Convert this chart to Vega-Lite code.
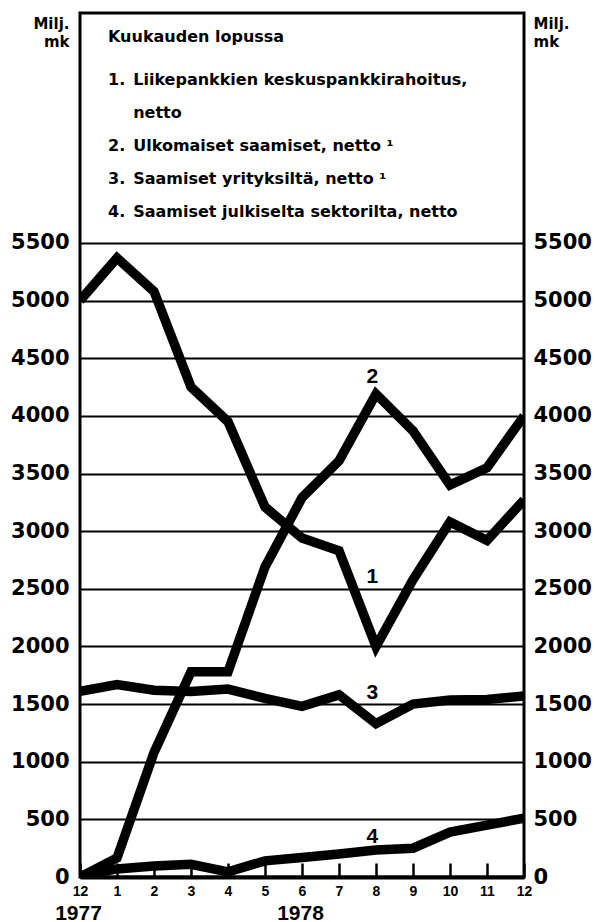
{
  "$schema": "https://vega.github.io/schema/vega-lite/v6.json",
  "width": 444,
  "height": 864,
  "autosize": "none",
  "padding": {"left": 80, "top": 13, "right": 71, "bottom": 45},
  "background": "white",
  "config": {
    "view": {"stroke": "black", "strokeWidth": 3},
    "font": "DejaVu Sans"
  },
  "title": {
    "text": "Kuukauden lopussa",
    "subtitle": [
      "1.\u2002Liikepankkien keskuspankkirahoitus,",
      "\u200b\u2007\u2008\u2002netto",
      "2.\u2002Ulkomaiset saamiset, netto \u00b9",
      "3.\u2002Saamiset yrityksiltä, netto \u00b9",
      "4.\u2002Saamiset julkiselta sektorilta, netto"
    ],
    "orient": "top",
    "anchor": "start",
    "frame": "group",
    "offset": -207,
    "dx": 28,
    "font": "DejaVu Sans",
    "fontSize": 16,
    "fontWeight": "bold",
    "color": "black",
    "subtitleFont": "DejaVu Sans",
    "subtitleFontSize": 16,
    "subtitleFontWeight": "bold",
    "subtitleColor": "black",
    "subtitleLineHeight": 33,
    "subtitlePadding": 27
  },
  "layer": [
    {
      "data": {
        "values": [
          {"m": 0, "s": "1", "v": 5000}, {"m": 1, "s": "1", "v": 5370}, {"m": 2, "s": "1", "v": 5080},
          {"m": 3, "s": "1", "v": 4250}, {"m": 4, "s": "1", "v": 3950}, {"m": 5, "s": "1", "v": 3210},
          {"m": 6, "s": "1", "v": 2940}, {"m": 7, "s": "1", "v": 2830}, {"m": 8, "s": "1", "v": 2000},
          {"m": 9, "s": "1", "v": 2580}, {"m": 10, "s": "1", "v": 3080}, {"m": 11, "s": "1", "v": 2920},
          {"m": 12, "s": "1", "v": 3270},
          {"m": 0, "s": "2", "v": 0}, {"m": 1, "s": "2", "v": 165}, {"m": 2, "s": "2", "v": 1080},
          {"m": 3, "s": "2", "v": 1780}, {"m": 4, "s": "2", "v": 1780}, {"m": 5, "s": "2", "v": 2690},
          {"m": 6, "s": "2", "v": 3290}, {"m": 7, "s": "2", "v": 3610}, {"m": 8, "s": "2", "v": 4190},
          {"m": 9, "s": "2", "v": 3870}, {"m": 10, "s": "2", "v": 3400}, {"m": 11, "s": "2", "v": 3550},
          {"m": 12, "s": "2", "v": 4000},
          {"m": 0, "s": "3", "v": 1610}, {"m": 1, "s": "3", "v": 1670}, {"m": 2, "s": "3", "v": 1620},
          {"m": 3, "s": "3", "v": 1610}, {"m": 4, "s": "3", "v": 1630}, {"m": 5, "s": "3", "v": 1550},
          {"m": 6, "s": "3", "v": 1480}, {"m": 7, "s": "3", "v": 1580}, {"m": 8, "s": "3", "v": 1330},
          {"m": 9, "s": "3", "v": 1500}, {"m": 10, "s": "3", "v": 1535}, {"m": 11, "s": "3", "v": 1540},
          {"m": 12, "s": "3", "v": 1570},
          {"m": 0, "s": "4", "v": 10}, {"m": 1, "s": "4", "v": 70}, {"m": 2, "s": "4", "v": 95},
          {"m": 3, "s": "4", "v": 110}, {"m": 4, "s": "4", "v": 45}, {"m": 5, "s": "4", "v": 140},
          {"m": 6, "s": "4", "v": 170}, {"m": 7, "s": "4", "v": 200}, {"m": 8, "s": "4", "v": 235},
          {"m": 9, "s": "4", "v": 250}, {"m": 10, "s": "4", "v": 390}, {"m": 11, "s": "4", "v": 450},
          {"m": 12, "s": "4", "v": 510}
        ]
      },
      "mark": {"type": "line", "color": "black", "strokeWidth": 9.5, "strokeJoin": "miter", "strokeMiterLimit": 4, "clip": true},
      "encoding": {
        "x": {
          "field": "m", "type": "quantitative",
          "scale": {"domain": [0, 12], "nice": false, "zero": false},
          "axis": {
            "orient": "bottom",
            "title": null,
            "values": [0, 1, 2, 3, 4, 5, 6, 7, 8, 9, 10, 11, 12],
            "labelExpr": "datum.value == 0 ? '12' : datum.value",
            "labelFlush": false,
            "labelOverlap": false,
            "labelFont": "Liberation Sans",
            "labelFontSize": 14,
            "labelFontWeight": "bold",
            "labelColor": "black",
            "labelPadding": 21,
            "ticks": true,
            "tickSize": -14,
            "tickWidth": 2.5,
            "tickColor": "black",
            "domain": true,
            "domainWidth": 4,
            "domainColor": "black",
            "grid": false
          }
        },
        "y": {
          "field": "v", "type": "quantitative",
          "scale": {"domain": [0, 7495], "nice": false},
          "axis": {
            "orient": "left",
            "format": "d",
            "values": [0, 500, 1000, 1500, 2000, 2500, 3000, 3500, 4000, 4500, 5000, 5500],
            "labelFont": "DejaVu Sans",
            "labelFontSize": 21,
            "labelFontWeight": "bold",
            "labelColor": "black",
            "labelPadding": 11,
            "ticks": false,
            "domain": false,
            "grid": true,
            "gridColor": "black",
            "gridWidth": 2,
            "gridOpacity": 1,
            "title": ["Milj.", "mk"],
            "titleAngle": 0,
            "titleAlign": "right",
            "titleBaseline": "alphabetic",
            "titleFont": "DejaVu Sans",
            "titleFontSize": 15,
            "titleFontWeight": "bold",
            "titleColor": "black",
            "titleLineHeight": 18,
            "titleX": -11,
            "titleY": 15
          }
        },
        "detail": {"field": "s"}
      }
    },
    {
      "data": {
        "values": [
          {"m": 7.9, "s": "2", "v": 4340},
          {"m": 7.9, "s": "1", "v": 2600},
          {"m": 7.9, "s": "3", "v": 1600},
          {"m": 7.9, "s": "4", "v": 350}
        ]
      },
      "mark": {"type": "text", "font": "Liberation Sans", "fontSize": 21, "fontWeight": "bold", "color": "black", "baseline": "middle", "align": "center"},
      "encoding": {
        "x": {
          "field": "m", "type": "quantitative",
          "scale": {"domain": [0, 12], "nice": false, "zero": false},
          "axis": {
            "orient": "bottom",
            "title": null,
            "values": [0, 6],
            "labelExpr": "datum.value == 0 ? '1977' : '1978'",
            "labelFlush": false,
            "labelOverlap": false,
            "labelFont": "Liberation Sans",
            "labelFontSize": 21,
            "labelFontWeight": "bold",
            "labelColor": "black",
            "labelBaseline": "alphabetic",
            "labelPadding": 42,
            "labelOffset": -2,
            "ticks": false,
            "domain": false,
            "grid": false
          }
        },
        "y": {
          "field": "v", "type": "quantitative",
          "scale": {"domain": [0, 7495], "nice": false},
          "axis": {
            "orient": "right",
            "format": "d",
            "values": [0, 500, 1000, 1500, 2000, 2500, 3000, 3500, 4000, 4500, 5000, 5500],
            "labelFont": "DejaVu Sans",
            "labelFontSize": 21,
            "labelFontWeight": "bold",
            "labelColor": "black",
            "labelPadding": 9,
            "ticks": false,
            "domain": false,
            "grid": false,
            "title": ["Milj.", "mk"],
            "titleAngle": 0,
            "titleAlign": "left",
            "titleBaseline": "alphabetic",
            "titleFont": "DejaVu Sans",
            "titleFontSize": 15,
            "titleFontWeight": "bold",
            "titleColor": "black",
            "titleLineHeight": 18,
            "titleX": 9,
            "titleY": 15
          }
        },
        "text": {"field": "s"}
      }
    }
  ],
  "resolve": {"scale": {"x": "shared", "y": "shared"}, "axis": {"x": "independent", "y": "independent"}}
}
